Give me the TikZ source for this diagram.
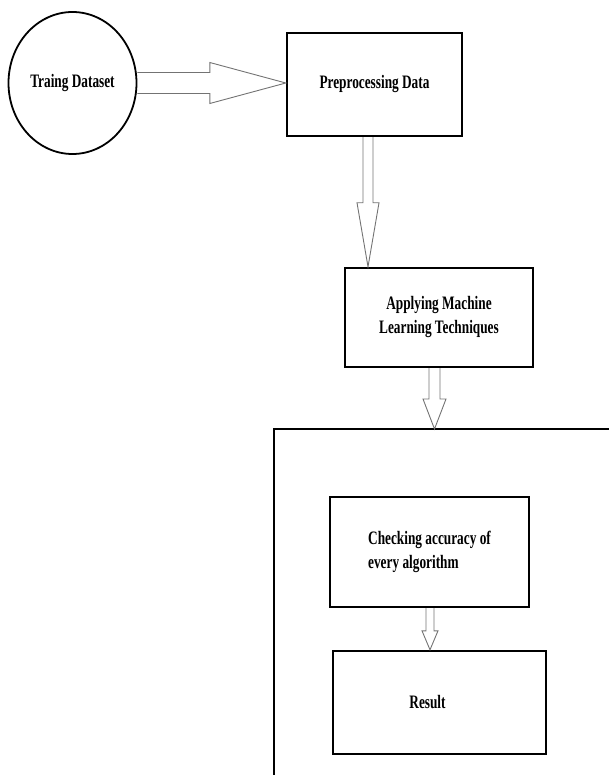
\documentclass[tikz,border=0pt]{standalone}
\usepackage{fontspec}
\setmainfont[FakeStretch=0.7]{Liberation Serif}
\usetikzlibrary{calc,shapes.geometric}
\def\blockdown(#1)(#2)(#3:#4:#5){\draw[flow] let \p1=(#1), \p2=(#2) in (\x1-#3pt,\y1) -- (\x1-#3pt,\y2+#5pt) -- (\x1-#4pt,\y2+#5pt) -- (\x1,\y2) -- (\x1+#4pt,\y2+#5pt) -- (\x1+#3pt,\y2+#5pt) -- (\x1+#3pt,\y1);}
\def\blockright(#1)(#2)(#3:#4:#5){\draw[flow] let \p1=(#1), \p2=(#2) in (\x1,\y1+#3pt) -- (\x2-#5pt,\y1+#3pt) -- (\x2-#5pt,\y1+#4pt) -- (\x2,\y1) -- (\x2-#5pt,\y1-#4pt) -- (\x2-#5pt,\y1-#3pt) -- (\x1,\y1-#3pt);}

\begin{document}
\begin{tikzpicture}[x=1pt, y=-1pt,
	stepbox/.style={draw, line width=2.4pt, inner sep=0pt, font=\fontsize{19}{24}\selectfont\bfseries, align=center},
	flow/.style={draw=black!55, line width=0.9pt, line join=miter}]
			%%%%% START %%%%%
			\useasboundingbox (0, 0) rectangle (609, 775);
			
			\node[draw, ellipse, line width=1.8pt, minimum width=128pt, minimum height=142pt, inner sep=0pt, font=\fontsize{19}{24}\selectfont\bfseries] (data) at (72.5, 83) {Traing Dataset};
			\node[stepbox, minimum width=175pt, minimum height=103pt] (prep) at (374.5, 84.5) {Preprocessing Data};
			\node[stepbox, minimum width=188pt, minimum height=99pt] (apply) at (439, 317.5) {Applying Machine\\Learning Techniques};
			
			\draw[line width=2.4pt] (274, 775) |- (609, 429);
			\coordinate (frametop) at (434, 429);
			
			\node[stepbox, minimum width=199pt, minimum height=110pt, align=left] (check) at (429.5, 552) {Checking accuracy of\\every algorithm\hspace*{22pt}};
			\node[stepbox, minimum width=213pt, minimum height=103pt] (result) at (439.5, 702.5) {Result\hspace*{24pt}};
			
			\coordinate (a1) at ($(prep.south)+(-6.5, 0)$);
			\coordinate (a2) at ($(apply.south)+(-4.5, 0)$);
			\coordinate (a3) at ($(check.south)+(0.5, 0)$);
			
			\blockright(data.east)(prep.west)(10.5:20.5:76)
			\blockdown(a1)(apply.north)(5:11:64)
			\blockdown(a2)(frametop)(5.5:11.5:30)
			\blockdown(a3)(result.north)(4:8:19)
			%%%%% END %%%%%
\end{tikzpicture}
\end{document}
